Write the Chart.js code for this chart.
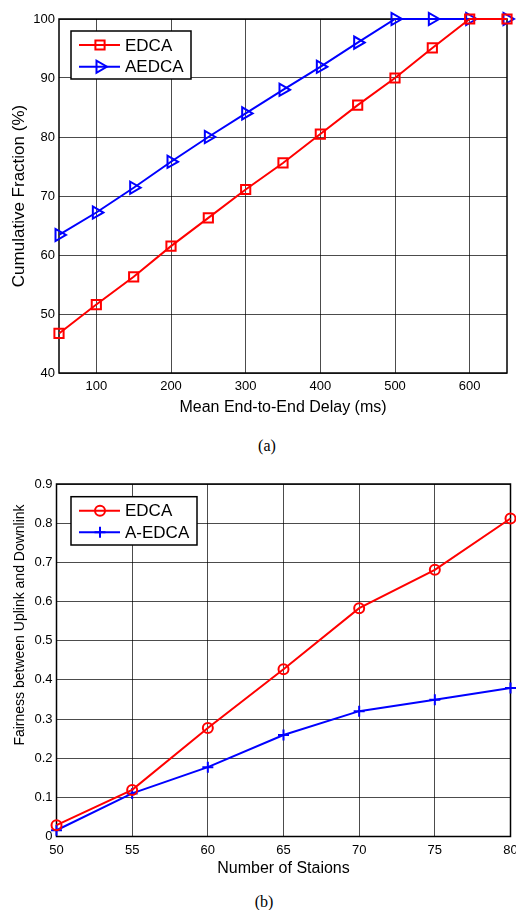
<!DOCTYPE html>
<html lang="en">
<head>
<meta charset="utf-8">
<title>EDCA vs AEDCA</title>
<script src="https://cdn.jsdelivr.net/npm/chart.js@4.4.0/dist/chart.umd.min.js"></script>
<style>
  body { margin: 0; background: #fff; overflow: hidden; }
  #page { position: relative; width: 516px; height: 910px; overflow: hidden;
          font-family: "Liberation Sans", Arial, sans-serif; }
  .plot { position: absolute; left: 0; }
  .cap { position: absolute; width: 40px; text-align: center; line-height: 16px;
         font-family: "Liberation Serif", "Times New Roman", serif; font-size: 16px; color: #000; }
  #ytitleB { position: absolute; left: -131.5px; top: 617px; width: 300px; height: 16px;
             line-height: 16px; text-align: center; font-size: 14px; color: #000;
             transform: rotate(-90deg); white-space: nowrap; }
</style>
</head>
<body>
<div id="page">
  <canvas id="chartA" class="plot" style="top:0px" width="516" height="430"></canvas>
  <div class="cap" style="left:247px; top:438px">(a)</div>
  <!-- wider than the page so the "80" label gets cut at the edge like the original -->
  <canvas id="chartB" class="plot" style="top:455px" width="530" height="425"></canvas>
  <div id="ytitleB">Fairness between Uplink and Downlink</div>
  <div class="cap" style="left:244px; top:894px">(b)</div>
</div>
<script>
  // (a) cumulative fraction vs mean delay
  var delayA = [50, 100, 150, 200, 250, 300, 350, 400, 450, 500, 550, 600, 650];
  var edcaA = [46.7, 51.6, 56.3, 61.5, 66.3, 71.1, 75.6, 80.5, 85.4, 90, 95.1, 100, 100];
  var aedcaA = [63.4, 67.2, 71.4, 75.8, 80, 84, 88, 91.9, 96, 100, 100, 100, 100];
  var xTicksA = [100, 200, 300, 400, 500, 600];
  var yTicksA = [40, 50, 60, 70, 80, 90, 100];

  // (b) fairness vs number of stations
  var stationsB = [50, 55, 60, 65, 70, 75, 80];
  var edcaB = [0.029, 0.119, 0.277, 0.427, 0.583, 0.681, 0.812];
  var aedcaB = [0.016, 0.11, 0.177, 0.259, 0.32, 0.349, 0.379];
  var xTicksB = [50, 55, 60, 65, 70, 75, 80];
  var yTicksB = [0, 0.1, 0.2, 0.3, 0.4, 0.5, 0.6, 0.7, 0.8, 0.9];

  var gridColor = 'rgba(0,0,0,0.7)';

  function pairs(xs, ys) {
    return xs.map(function (x, i) { return {x: x, y: ys[i]}; });
  }

  // marker for the legend samples, same style as the dataset points
  function marker(ctx, ds, x, y) {
    if (Chart.helpers && Chart.helpers.drawPoint) {
      ctx.strokeStyle = ds.pointBorderColor;
      ctx.fillStyle = 'rgba(0,0,0,0)';
      ctx.lineWidth = ds.pointBorderWidth;
      Chart.helpers.drawPoint(ctx, {
        pointStyle: ds.pointStyle, rotation: ds.pointRotation || 0,
        radius: ds.pointRadius, borderWidth: ds.pointBorderWidth
      }, x, y);
    }
  }

  // box around plot area (matlab style)
  var frame = {
    id: 'frame',
    beforeDatasetsDraw: function (chart) {
      var a = chart.chartArea, ctx = chart.ctx;
      ctx.save();
      ctx.strokeStyle = '#000';
      ctx.lineWidth = 1.5;
      ctx.strokeRect(a.left, a.top, a.right - a.left, a.bottom - a.top);
      ctx.restore();
    }
  };

  // legend box drawn inside the plot
  var boxLegend = {
    id: 'boxLegend',
    afterDatasetsDraw: function (chart, args, opts) {
      var ctx = chart.ctx;
      ctx.save();
      ctx.fillStyle = '#fff';
      ctx.fillRect(opts.x, opts.y, opts.w, opts.h);
      ctx.strokeStyle = '#000';
      ctx.lineWidth = 1.5;
      ctx.strokeRect(opts.x, opts.y, opts.w, opts.h);
      chart.data.datasets.forEach(function (ds, i) {
        var ry = opts.rows[i];
        ctx.strokeStyle = ds.borderColor;
        ctx.lineWidth = ds.borderWidth;
        ctx.beginPath();
        ctx.moveTo(opts.x + 8, ry);
        ctx.lineTo(opts.x + 49, ry);
        ctx.stroke();
        marker(ctx, ds, opts.x + 29, ry);
        ctx.fillStyle = '#000';
        ctx.font = '17px "Liberation Sans", Arial, sans-serif';
        ctx.textBaseline = 'middle';
        ctx.fillText(ds.label, opts.x + 54, ry + 1);
      });
      ctx.restore();
    }
  };

  function axis(min, max, tickList, size, titleText, titleSize, titlePad) {
    return {
      type: 'linear',
      min: min,
      max: max,
      afterBuildTicks: function (s) {
        s.ticks = tickList.map(function (v) { return {value: v}; });
      },
      afterFit: function (s) {
        if (s.isHorizontal()) s.height = size; else s.width = size;
      },
      grid: {color: gridColor, lineWidth: 1, drawTicks: false},
      border: {display: false},
      ticks: {color: '#000', font: {size: 13}, padding: 0, autoSkip: false, maxRotation: 0},
      title: {
        display: !!titleText, text: titleText, color: '#000',
        font: {size: titleSize}, padding: titlePad
      }
    };
  }

  var xA = axis(50, 650, xTicksA, 57, 'Mean End-to-End Delay (ms)', 16, {top: 0, bottom: 13});
  xA.ticks.padding = 6;
  var yA = axis(40, 100, yTicksA, 59, 'Cumulative Fraction (%)', 17, {top: 9, bottom: 0});
  yA.ticks.padding = 4;

  new Chart(document.getElementById('chartA'), {
    type: 'line',
    data: {
      datasets: [{
        label: 'EDCA',
        data: pairs(delayA, edcaA),
        borderColor: '#ff0000',
        borderWidth: 2,
        pointStyle: 'rect',
        pointRadius: 6.5,
        pointBorderWidth: 2,
        pointBorderColor: '#ff0000',
        pointBackgroundColor: 'rgba(0,0,0,0)',
        clip: false
      }, {
        label: 'AEDCA',
        data: pairs(delayA, aedcaA),
        borderColor: '#0000ff',
        borderWidth: 2,
        pointStyle: 'triangle',
        pointRotation: 90,
        pointRadius: 7,
        pointBorderWidth: 2,
        pointBorderColor: '#0000ff',
        pointBackgroundColor: 'rgba(0,0,0,0)',
        clip: false
      }]
    },
    options: {
      responsive: false,
      animation: false,
      layout: {padding: {top: 19, right: 5, left: 0, bottom: 0}},
      scales: {x: xA, y: yA},
      plugins: {
        legend: {display: false},
        tooltip: {enabled: false},
        boxLegend: {x: 71, y: 31, w: 120, h: 48, rows: [45, 66.7]}
      }
    },
    plugins: [frame, boxLegend]
  });

  var xB = axis(50, 80, xTicksB, 43.5, 'Number of Staions', 16, {top: 0, bottom: 1.4});
  xB.ticks.padding = 6;
  var yB = axis(0, 0.9, yTicksB, 56.5, '', 14, 0);
  yB.ticks.padding = 4;

  new Chart(document.getElementById('chartB'), {
    type: 'line',
    data: {
      datasets: [{
        label: 'EDCA',
        data: pairs(stationsB, edcaB),
        borderColor: '#ff0000',
        borderWidth: 2,
        pointStyle: 'circle',
        pointRadius: 5,
        pointBorderWidth: 2,
        pointBorderColor: '#ff0000',
        pointBackgroundColor: 'rgba(0,0,0,0)',
        clip: false
      }, {
        label: 'A-EDCA',
        data: pairs(stationsB, aedcaB),
        borderColor: '#0000ff',
        borderWidth: 2,
        pointStyle: 'cross',
        pointRadius: 5.5,
        pointBorderWidth: 2,
        pointBorderColor: '#0000ff',
        pointBackgroundColor: 'rgba(0,0,0,0)',
        clip: false
      }]
    },
    options: {
      responsive: false,
      animation: false,
      layout: {padding: {top: 29, right: 19.5, left: 0, bottom: 0}},
      scales: {x: xB, y: yB},
      plugins: {
        legend: {display: false},
        tooltip: {enabled: false},
        boxLegend: {x: 71, y: 41.7, w: 126, h: 48.3, rows: [55.7, 77.3]}
      }
    },
    plugins: [frame, boxLegend]
  });
</script>
</body>
</html>
